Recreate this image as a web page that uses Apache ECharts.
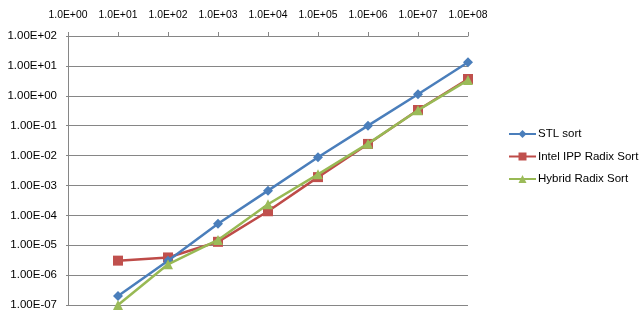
<!DOCTYPE html>
<html><head><meta charset="utf-8">
<script src="https://cdn.jsdelivr.net/npm/echarts@6/dist/echarts.min.js"></script>
<style>html,body{margin:0;padding:0;background:#fff}#c{width:643px;height:314px}</style>
</head><body><div id="c"></div>
<script>
var sizes = [1e1, 1e2, 1e3, 1e4, 1e5, 1e6, 1e7, 1e8];
var stlSort = [2.0e-7, 3.0e-6, 5.2e-5, 6.7e-4, 8.8e-3, 0.10, 1.12, 13.2];
var ippRadix = [3.05e-6, 3.9e-6, 1.3e-5, 1.37e-4, 1.9e-3, 0.0245, 0.335, 3.65];
var hybridRadix = [1.0e-7, 2.3e-6, 1.5e-5, 2.35e-4, 2.35e-3, 0.025, 0.33, 3.35];
var seriesNames = ['STL sort', 'Intel IPP Radix Sort', 'Hybrid Radix Sort'];
var xTickLabels = ['1.0E+00','1.0E+01','1.0E+02','1.0E+03','1.0E+04','1.0E+05','1.0E+06','1.0E+07','1.0E+08'];
var yTickLabels = ['1.00E-07','1.00E-06','1.00E-05','1.00E-04','1.00E-03','1.00E-02','1.00E-01','1.00E+00','1.00E+01','1.00E+02'];

function pairs(arr){ return sizes.map(function(x,i){ return [x, arr[i]]; }); }
var font = 'Liberation Sans, Arial, sans-serif';
var grey = '#868686';
var chart = echarts.init(document.getElementById('c'), null, {renderer:'canvas'});
chart.setOption({
  animation:false,
  backgroundColor:'#fff',
  grid:{left:68, right:175, top:36, bottom:9, containLabel:false},
  xAxis:{type:'log', logBase:10, min:1, max:1e8, position:'top',
    axisLine:{show:true, lineStyle:{color:grey, width:1}},
    axisTick:{show:true, length:4, lineStyle:{color:grey}},
    minorTick:{show:false}, splitLine:{show:false},
    axisLabel:{color:'#000', fontFamily:font, fontSize:10.4, margin:16,
      formatter:function(v){ return xTickLabels[Math.round(Math.log10(v))]; }}
  },
  yAxis:{type:'log', logBase:10, min:1e-7, max:100,
    axisLine:{show:true, lineStyle:{color:grey, width:1}},
    axisTick:{show:true, length:2, lineStyle:{color:grey}},
    splitLine:{show:true, lineStyle:{color:grey, width:1}},
    axisLabel:{color:'#000', fontFamily:font, fontSize:11.5, margin:11,
      formatter:function(v){ return yTickLabels[Math.round(Math.log10(v))+7]; }}
  },
  legend:{orient:'vertical', left:503, top:123, itemWidth:27, itemHeight:10, itemGap:10.5,
    textStyle:{color:'#000', fontFamily:font, fontSize:11.5, padding:[0,0,0,-3]},
    data:seriesNames},
  series:[
    {name:seriesNames[0], type:'line', data:pairs(stlSort), symbol:'diamond', symbolSize:10,
      lineStyle:{color:'#4A7EBB', width:2.5}, itemStyle:{color:'#4A7EBB'}, clip:false, z:3},
    {name:seriesNames[1], type:'line', data:pairs(ippRadix), symbol:'rect', symbolSize:10,
      lineStyle:{color:'#BE4B48', width:2.5}, itemStyle:{color:'#C0504D'}, clip:false, z:2},
    {name:seriesNames[2], type:'line', data:pairs(hybridRadix), symbol:'triangle', symbolSize:10,
      lineStyle:{color:'#98B954', width:2.5}, itemStyle:{color:'#9BBB59'}, clip:false, z:4}
  ]
});
</script></body></html>
